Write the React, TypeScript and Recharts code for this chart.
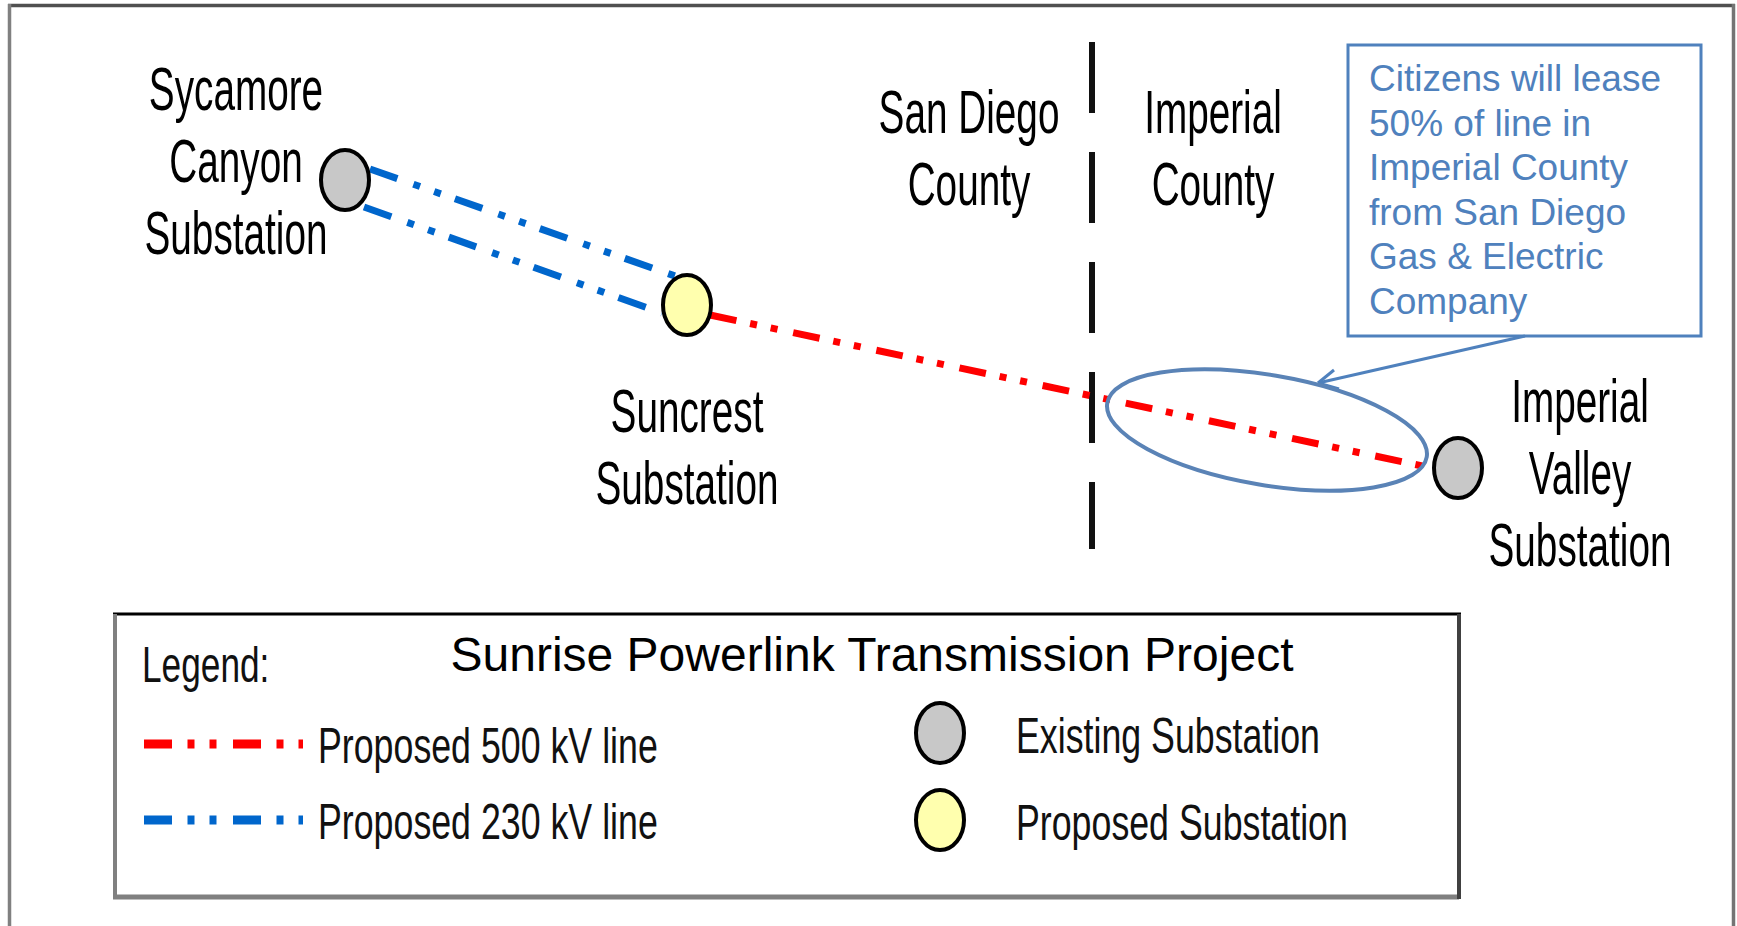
import React from 'react';
import { ComposedChart, XAxis, YAxis, Scatter, ReferenceLine, ReferenceArea } from 'recharts';

const W = 1737;
const H = 926;
const FONT = '"Liberation Sans", Arial, Helvetica, sans-serif';

const RED = '#FF0000';
const BLUE = '#0066CC';
const GREY = '#C8C8C8';
const YELLOW = '#FFFFAE';
const NOTE = '#4F81BD';

// ---- diagram data (diagram coordinate space = pixel space of the sketch) ----
const existingSubstations = [
  { name: 'Sycamore Canyon', x: 345, y: 180 },
  { name: 'Imperial Valley', x: 1458, y: 468 },
];
const proposedSubstations = [{ name: 'Suncrest', x: 687, y: 305 }];

const line230kV = [
  [{ x: 370, y: 169 }, { x: 675, y: 276 }],
  [{ x: 364, y: 207 }, { x: 662, y: 313 }],
];
const line500kV = [{ x: 710, y: 315 }, { x: 1427, y: 467 }];

const countyBoundary = [{ x: 1092, y: 42 }, { x: 1092, y: 549 }];

const stationLabels = [
  { x: 236, y: 110, lines: ['Sycamore', 'Canyon', 'Substation'] },
  { x: 687, y: 432, lines: ['Suncrest', 'Substation'] },
  { x: 1580, y: 422, lines: ['Imperial', 'Valley', 'Substation'] },
];
const countyLabels = [
  { x: 969, y: 133, lines: ['San Diego', 'County'] },
  { x: 1213, y: 133, lines: ['Imperial', 'County'] },
];

const calloutLines = [
  'Citizens will lease',
  '50% of line in',
  'Imperial County',
  'from San Diego',
  'Gas & Electric',
  'Company',
];
const calloutText = [{ x: 1369, y: 91, lines: calloutLines }];
const calloutBox = { x1: 1348, x2: 1701, y1: 45, y2: 336 };
const calloutPointer = [{ x: 1525, y: 336 }, { x: 1318, y: 383 }];
const arrowArms = [
  [{ x: 1318, y: 383 }, { x: 1334, y: 370 }],
  [{ x: 1318, y: 383 }, { x: 1339, y: 389 }],
];
const leaseEllipse = [{ x: 1267, y: 430 }];

const legendBox = { x1: 115, x2: 1459, y1: 614, y2: 897 };
const legendTitle = [{ x: 872, y: 671, lines: ['Sunrise Powerlink Transmission Project'] }];
const legendHeading = [{ x: 142, y: 682, lines: ['Legend:'] }];
const legendLineItems = [
  { label: 'Proposed 500 kV line', color: RED, y: 744 },
  { label: 'Proposed 230 kV line', color: BLUE, y: 820 },
];
const legendStationItems = [
  { label: 'Existing Substation', fill: GREY, y: 733 },
  { label: 'Proposed Substation', fill: YELLOW, y: 820 },
];
const legendSymbolX = 940;
const legendLineX = [144, 303];
const legendLineLabelX = 318;
const legendStationLabelX = 1016;

// ---- render helpers ----
const multiLine =
  (fontSize: number, scaleX: number, gap: number, anchor: string, color: string) =>
  (props: any) => {
    const { cx, cy, payload } = props;
    return (
      <g transform={`translate(${cx},${cy}) scale(${scaleX},1)`}>
        {payload.lines.map((t: string, i: number) => (
          <text
            key={i}
            x={0}
            y={i * gap}
            textAnchor={anchor}
            fontSize={fontSize}
            fontFamily={FONT}
            fill={color}
          >
            {t}
          </text>
        ))}
      </g>
    );
  };

const station = (fill: string) => (props: any) => (
  <ellipse cx={props.cx} cy={props.cy} rx={24} ry={30} fill={fill} stroke="#000" strokeWidth={4} />
);

const leaseShape = (props: any) => (
  <ellipse
    cx={props.cx}
    cy={props.cy}
    rx={162}
    ry={55}
    transform={`rotate(9.6 ${props.cx} ${props.cy})`}
    fill="none"
    stroke="#5A83B6"
    strokeWidth={4}
  />
);

const DASH_500 = '27 14 7 14 7 16';
const DASH_230 = '29 17 7 15 7 15';
const DASH_LEGEND = '28 15.5 7 15 7 16.5';

export default function App() {
  const legendLabelData = [
    ...legendLineItems.map((d) => ({ x: legendLineLabelX, y: d.y + 19, lines: [d.label] })),
    ...legendStationItems.map((d) => ({ x: legendStationLabelX, y: d.y + 20, lines: [d.label] })),
  ];
  return (
    <div style={{ position: 'absolute', left: 0, top: 0, width: W, height: H, background: '#fff' }}>
      <ComposedChart width={W} height={H} margin={{ top: 0, right: 0, bottom: 0, left: 0 }}>
        <XAxis type="number" dataKey="x" domain={[0, W]} allowDataOverflow hide />
        <YAxis type="number" dataKey="y" domain={[0, H]} allowDataOverflow reversed hide />

        {/* outer frame */}
        <ReferenceLine segment={[{ x: 8, y: 5.5 }, { x: 1735, y: 5.5 }]} stroke="#505050" strokeWidth={3.5} />
        <ReferenceLine segment={[{ x: 9.5, y: 4 }, { x: 9.5, y: H }]} stroke="#808080" strokeWidth={3.5} />
        <ReferenceLine segment={[{ x: 1733.5, y: 4 }, { x: 1733.5, y: H }]} stroke="#747474" strokeWidth={3.5} />

        {/* county boundary */}
        <ReferenceLine segment={countyBoundary} stroke="#111" strokeWidth={6} strokeDasharray="71 39" />

        {/* transmission lines */}
        {line230kV.map((seg, i) => (
          <ReferenceLine key={`b${i}`} segment={seg} stroke={BLUE} strokeWidth={7} strokeDasharray={DASH_230} />
        ))}
        <ReferenceLine segment={line500kV} stroke={RED} strokeWidth={7} strokeDasharray={DASH_500} />

        {/* callout */}
        <ReferenceArea
          x1={calloutBox.x1}
          x2={calloutBox.x2}
          y1={calloutBox.y1}
          y2={calloutBox.y2}
          fill="#fff"
          fillOpacity={1}
          stroke={NOTE}
          strokeWidth={3}
        />
        <ReferenceLine segment={calloutPointer} stroke={NOTE} strokeWidth={3} />
        {arrowArms.map((seg, i) => (
          <ReferenceLine key={`a${i}`} segment={seg} stroke={NOTE} strokeWidth={3} />
        ))}

        {/* legend box */}
        <ReferenceLine segment={[{ x: legendBox.x1 - 2, y: legendBox.y1 }, { x: legendBox.x2 + 2, y: legendBox.y1 }]} stroke="#000" strokeWidth={3} />
        <ReferenceLine segment={[{ x: legendBox.x1, y: legendBox.y1 }, { x: legendBox.x1, y: legendBox.y2 }]} stroke="#808080" strokeWidth={4} />
        <ReferenceLine segment={[{ x: legendBox.x1 - 2, y: legendBox.y2 }, { x: legendBox.x2, y: legendBox.y2 }]} stroke="#808080" strokeWidth={5} />
        <ReferenceLine segment={[{ x: legendBox.x2, y: legendBox.y1 }, { x: legendBox.x2, y: legendBox.y2 + 2 }]} stroke="#404040" strokeWidth={4} />

        {legendLineItems.map((d, i) => (
          <ReferenceLine
            key={`l${i}`}
            segment={[{ x: legendLineX[0], y: d.y }, { x: legendLineX[1], y: d.y }]}
            stroke={d.color}
            strokeWidth={9}
            strokeDasharray={DASH_LEGEND}
          />
        ))}

        {/* shapes and text via scatter series */}
        <Scatter data={leaseEllipse} shape={leaseShape} isAnimationActive={false} />
        <Scatter data={existingSubstations} shape={station(GREY)} isAnimationActive={false} />
        <Scatter data={proposedSubstations} shape={station(YELLOW)} isAnimationActive={false} />
        <Scatter
          data={[{ x: legendSymbolX, y: legendStationItems[0].y }]}
          shape={station(GREY)}
          isAnimationActive={false}
        />
        <Scatter
          data={[{ x: legendSymbolX, y: legendStationItems[1].y }]}
          shape={station(YELLOW)}
          isAnimationActive={false}
        />

        <Scatter data={stationLabels} shape={multiLine(61, 0.635, 72, 'middle', '#000')} isAnimationActive={false} />
        <Scatter data={countyLabels} shape={multiLine(61, 0.635, 72, 'middle', '#000')} isAnimationActive={false} />
        <Scatter data={calloutText} shape={multiLine(37, 1, 44.6, 'start', NOTE)} isAnimationActive={false} />
        <Scatter data={legendTitle} shape={multiLine(48, 1, 0, 'middle', '#000')} isAnimationActive={false} />
        <Scatter data={legendHeading} shape={multiLine(50, 0.705, 0, 'start', '#111')} isAnimationActive={false} />
        <Scatter data={legendLabelData} shape={multiLine(50, 0.715, 0, 'start', '#111')} isAnimationActive={false} />
      </ComposedChart>
    </div>
  );
}
